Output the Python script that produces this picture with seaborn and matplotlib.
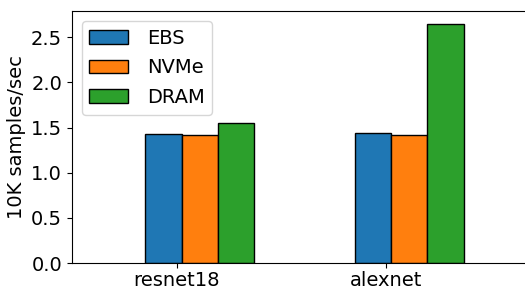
import pandas as pd
import matplotlib
matplotlib.use('Agg')
import matplotlib.pyplot as plt
import seaborn as sns

# data
models = ['resnet18', 'alexnet']
storage = ['EBS', 'NVMe', 'DRAM']
ebs = [1.43, 1.44]
nvme = [1.42, 1.42]
dram = [1.55, 2.65]
colors = ['#1f77b4', '#ff7f0e', '#2ca02c']

df = pd.DataFrame({'model': models * 3,
                   'storage': [s for s in storage for _ in models],
                   'value': ebs + nvme + dram})

plt.rcParams['font.family'] = ['DejaVu Sans']
fig = plt.figure(figsize=(5.25, 2.87), dpi=100)
ax = fig.add_axes([0.137, 0.0836, 0.866, 0.878])

sns.barplot(data=df, x='model', y='value', hue='storage', order=models,
            hue_order=storage, palette=colors, saturation=1, width=0.522,
            edgecolor='black', linewidth=1, errorbar=None, ax=ax)

# ticks sit left of the bar group centre in the original
ax.set_xticks([i - 0.109 for i in range(len(models))])
ax.set_xticklabels(models, fontsize=14)
ax.tick_params(axis='x', pad=2.5)
ax.set_xlim(-0.61, 1.56)
ax.set_ylim(0, 2.79)
ax.set_yticks([0, 0.5, 1.0, 1.5, 2.0, 2.5])
ax.tick_params(axis='y', labelsize=14)
ax.set_xlabel('')
ax.set_ylabel('10K samples/sec', fontsize=14)

sns.move_legend(ax, 'upper left', title=None, fontsize=14, frameon=True,
                handletextpad=0.95, labelspacing=0.55)

fig.savefig('out.png', dpi=100)
